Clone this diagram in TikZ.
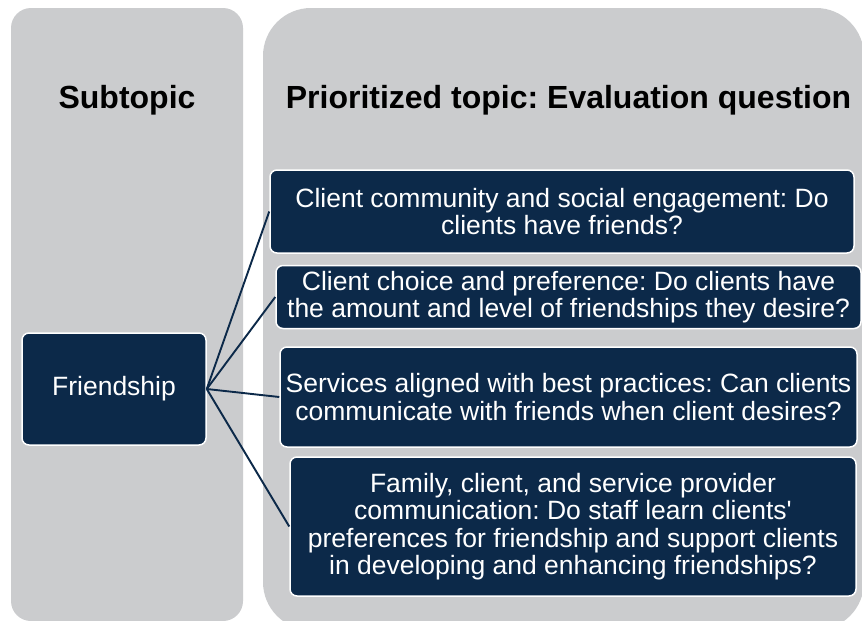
\documentclass[tikz,border=0pt]{standalone}
\usepackage{fontspec}
\setmainfont{Liberation Sans}[Ligatures=TeXOff]
\frenchspacing
\definecolor{panelgray}{RGB}{203,204,206}
\definecolor{navy}{RGB}{12,41,73}
\begin{document}
\begin{tikzpicture}[x=1pt,y=-1pt,
  panel/.style={fill=panelgray, draw=none},
  header/.style={font=\fontsize{32}{34}\selectfont\bfseries, text=black, inner sep=0pt},
  qbox/.style={draw=white, line width=1.5pt, fill=navy, rounded corners=7pt, text=white,
    font=\fontsize{26.5}{27.3}\selectfont, align=center, inner sep=0pt},
  conn/.style={draw=navy, line width=1.9pt}]
\useasboundingbox (0,0) rectangle (862,621);
\clip (0,0) rectangle (862,621);
\fill[white] (0,0) rectangle (862,621);
% panels
\path[panel, rounded corners=20pt] (11,8) rectangle (243,621);
\path[panel, rounded corners=48pt] (263,8) rectangle (864,630);
% headers
\node[header] (h1) at (127,100) {Subtopic};
\node[header] (h2) at (568.5,100) {Prioritized topic: Evaluation question};
% subtopic
\node[qbox, minimum width=184pt, minimum height=112pt] (fr) at (114,389) {Friendship};
% question boxes
\node[qbox, minimum width=584pt, minimum height=83pt] (b1) at (562,211.5)
  {Client community and social engagement: Do\\clients have friends?};
\node[qbox, minimum width=585pt, minimum height=63pt] (b2) at (568.5,297)
  {Client choice and preference: Do clients have\\the amount and level of friendships they desire?};
\node[qbox, minimum width=577pt, minimum height=100pt] (b3) at (568.5,397)
  {Services aligned with best practices: Can clients\\communicate with friends when client desires?};
\node[qbox, minimum width=566pt, minimum height=139pt] (b4) at (573,526.5)
  {Family, client, and service provider\\communication: Do staff learn clients'\\preferences for friendship and support clients\\in developing and enhancing friendships?};
% connectors
\draw[conn] (fr.east) -- (b1.west);
\draw[conn] (fr.east) -- (b2.west);
\draw[conn] (fr.east) -- (b3.west);
\draw[conn] (fr.east) -- (b4.west);
\end{tikzpicture}
\end{document}
